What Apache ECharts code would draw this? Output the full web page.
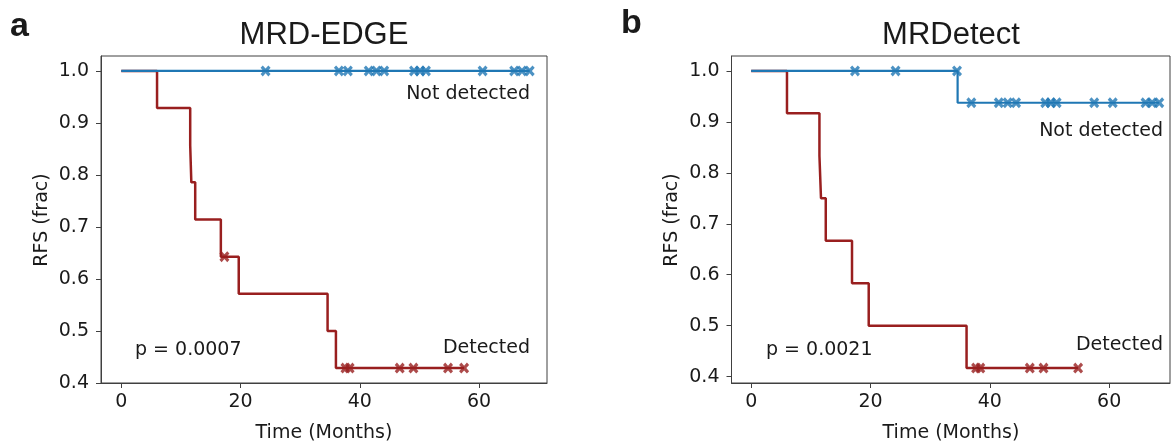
<!DOCTYPE html>
<html>
<head>
<meta charset="utf-8">
<script src="https://cdn.jsdelivr.net/npm/echarts@6/dist/echarts.min.js"></script>
<style>html,body{margin:0;padding:0;background:#fff;}#c{width:1173px;height:445px;}</style>
</head>
<body>
<div id="c"></div>
<script>
// Panel a: MRD-EDGE
const aDetTimes = [0, 6.0, 11.56, 11.75, 12.4, 16.7, 19.7, 34.6, 36.0, 57.5];
const aDetSurv  = [1.0, 0.9286, 0.8571, 0.7857, 0.7143, 0.6429, 0.5714, 0.5, 0.4286, 0.4286];
const aDetCensor = [17.3, 37.6, 38.3, 46.7, 49.0, 54.8, 57.5];
const aNdTimes = [0, 68.5];
const aNdSurv  = [1.0, 1.0];
const aNdCensor = [24.2, 36.5, 38.0, 41.5, 42.8, 44.1, 49.1, 50.1, 51.1, 60.6, 65.9, 67.2, 68.5];
// Panel b: MRDetect
const bDetTimes = [0, 6.0, 11.44, 11.7, 12.5, 16.9, 19.7, 36.1, 54.8];
const bDetSurv  = [1.0, 0.9167, 0.8333, 0.75, 0.6667, 0.5833, 0.5, 0.4167, 0.4167];
const bDetCensor = [37.7, 38.4, 46.7, 49.0, 54.8];
const bNdTimes = [0, 34.6, 68.4];
const bNdSurv  = [1.0, 0.9375, 0.9375];
const bNdCensor = [17.4, 24.2, 34.5, 36.9, 41.5, 43.0, 44.4, 49.3, 50.2, 51.2, 57.5, 60.6, 66.1, 67.2, 68.4];
// ticks
const xTicks = [0, 20, 40, 60];
const yTicks = [0.4, 0.5, 0.6, 0.7, 0.8, 0.9, 1.0];

const RED = '#991f1f', BLUE = '#1f77b4';
const TICKFONT = 'DejaVu Sans';

function pairs(t, s) { return t.map((v, i) => [v, s[i]]); }
function survAt(t, times, surv) {
  let v = surv[0];
  for (let i = 0; i < times.length; i++) { if (times[i] <= t) v = surv[i]; }
  return v;
}
function censorPts(c, times, surv) { return c.map(t => [t, survAt(t, times, surv)]); }

const XMARK = 'path://M0,2.2 L2.2,0 L5,2.8 L7.8,0 L10,2.2 L7.2,5 L10,7.8 L7.8,10 L5,7.2 L2.2,10 L0,7.8 L2.8,5 Z';

function xAxisDef(gi, min, max) {
  return {
    type: 'value', gridIndex: gi, min: min, max: max,
    splitLine: { show: false },
    axisLine: { show: true, onZero: false, lineStyle: { color: '#404040', width: 1 } },
    axisTick: { show: true, length: 5, customValues: xTicks, lineStyle: { color: '#404040' } },
    axisLabel: { customValues: xTicks, color: '#1a1a1a', fontFamily: TICKFONT, fontSize: 19, margin: 10 }
  };
}
function yAxisDef(gi, min, max) {
  return {
    type: 'value', gridIndex: gi, min: min, max: max,
    splitLine: { show: false },
    axisLine: { show: true, onZero: false, lineStyle: { color: '#404040', width: 1 } },
    axisTick: { show: true, length: 5, customValues: yTicks, lineStyle: { color: '#404040' } },
    axisLabel: { customValues: yTicks, color: '#1a1a1a', fontFamily: TICKFONT, fontSize: 19, margin: 12,
      formatter: v => v.toFixed(1) }
  };
}
function lineS(gi, data, color, w) {
  return { type: 'line', xAxisIndex: gi, yAxisIndex: gi, data: data, step: 'end',
    showSymbol: false, symbol: 'none', lineStyle: { color: color, width: w }, silent: true, animation: false };
}
function censS(gi, data, color) {
  return { type: 'scatter', xAxisIndex: gi, yAxisIndex: gi, data: data, symbol: XMARK,
    symbolSize: [10, 11], itemStyle: { color: color }, silent: true, animation: false };
}
function txt(x, y, s, opts) {
  return Object.assign({ type: 'text', x: x, y: y,
    style: Object.assign({ text: s, fill: '#1a1a1a', font: '19px "DejaVu Sans"', textAlign: 'left', textVerticalAlign: 'middle' }, opts || {}) });
}

const chart = echarts.init(document.getElementById('c'), null, { renderer: 'canvas' });
chart.setOption({
  animation: false,
  backgroundColor: '#fff',
  grid: [
    { left: 101, top: 56, width: 446, height: 327, show: true, borderColor: '#404040', borderWidth: 1, backgroundColor: 'transparent' },
    { left: 731.5, top: 56, width: 438.5, height: 327, show: true, borderColor: '#404040', borderWidth: 1, backgroundColor: 'transparent' }
  ],
  xAxis: [xAxisDef(0, -3.4, 71.4), xAxisDef(1, -3.3, 70.2)],
  yAxis: [yAxisDef(0, 0.4, 1.0286), yAxisDef(1, 0.3875, 1.0292)],
  series: [
    lineS(0, pairs(aDetTimes, aDetSurv), RED, 2.5),
    censS(0, censorPts(aDetCensor, aDetTimes, aDetSurv), RED),
    lineS(0, pairs(aNdTimes, aNdSurv), BLUE, 2.2),
    censS(0, censorPts(aNdCensor, aNdTimes, aNdSurv), BLUE),
    lineS(1, pairs(bDetTimes, bDetSurv), RED, 2.5),
    censS(1, censorPts(bDetCensor, bDetTimes, bDetSurv), RED),
    lineS(1, pairs(bNdTimes, bNdSurv), BLUE, 2.2),
    censS(1, censorPts(bNdCensor, bNdTimes, bNdSurv), BLUE)
  ],
  graphic: [
    txt(10, 27, 'a', { font: 'bold 34px "Liberation Sans"' }),
    txt(621, 24, 'b', { font: 'bold 34px "Liberation Sans"' }),
    txt(324, 35, 'MRD-EDGE', { font: '31px "Liberation Sans"', textAlign: 'center' }),
    txt(951, 35, 'MRDetect', { font: '31px "Liberation Sans"', textAlign: 'center' }),
    txt(530, 94, 'Not detected', { textAlign: 'right' }),
    txt(530, 348, 'Detected', { textAlign: 'right' }),
    txt(135, 350, 'p = 0.0007'),
    txt(1163, 131, 'Not detected', { textAlign: 'right' }),
    txt(1163, 345, 'Detected', { textAlign: 'right' }),
    txt(766, 350, 'p = 0.0021'),
    txt(324, 433, 'Time (Months)', { textAlign: 'center' }),
    txt(951, 433, 'Time (Months)', { textAlign: 'center' }),
    { type: 'text', x: 42, y: 220, rotation: Math.PI / 2,
      style: { text: 'RFS (frac)', fill: '#1a1a1a', font: '19px "DejaVu Sans"', textAlign: 'center', textVerticalAlign: 'middle' } },
    { type: 'text', x: 672, y: 220, rotation: Math.PI / 2,
      style: { text: 'RFS (frac)', fill: '#1a1a1a', font: '19px "DejaVu Sans"', textAlign: 'center', textVerticalAlign: 'middle' } }
  ]
});
</script>
</body>
</html>
